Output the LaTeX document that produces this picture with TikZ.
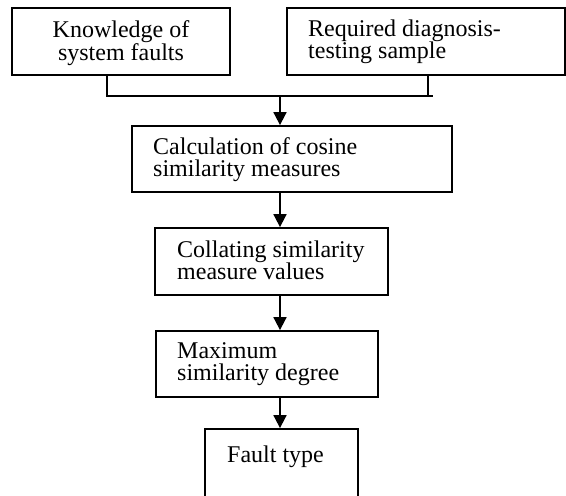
\documentclass[tikz,border=0pt]{standalone}
\usepackage{fontspec}
\setmainfont{Liberation Serif}
\usetikzlibrary{arrows.meta}
\tikzset{
  box/.style={draw, line width=1.8pt, rectangle, inner sep=0pt},
  lbl/.style={inner sep=0pt, anchor=base west, font=\fontsize{24}{21}\selectfont},
  clbl/.style={inner sep=0pt, anchor=base, font=\fontsize{24}{21}\selectfont},
  conn/.style={line width=1.8pt},
  arr/.style={line width=1.8pt, -{Triangle[length=13pt,width=13pt]}}
}
\begin{document}
\begin{tikzpicture}[x=1pt,y=-1pt]
\useasboundingbox (0,0) rectangle (566,496);
% boxes
\node[box, minimum width=218pt, minimum height=67pt] (b1) at (121,41.5) {};
\node[box, minimum width=278pt, minimum height=67pt] (b2) at (426,41.5) {};
\node[box, minimum width=320pt, minimum height=66pt] (b3) at (292,159) {};
\node[box, minimum width=233pt, minimum height=67pt] (b4) at (271.5,261.5) {};
\node[box, minimum width=222pt, minimum height=66pt] (b5) at (267,364) {};
\node[box, minimum width=153pt, minimum height=72pt] (b6) at (281.5,465) {};
% labels
\node[clbl] (t1) at (121,37) {\begin{tabular}[t]{@{}c@{}}Knowledge of\\system faults\end{tabular}};
\node[lbl] (t2) at (308,36) {\begin{tabular}[t]{@{}l@{}}Required diagnosis-\\testing sample\end{tabular}};
\node[lbl] (t3) at (153,154) {\begin{tabular}[t]{@{}l@{}}Calculation of cosine\\similarity measures\end{tabular}};
\node[lbl] (t4) at (177,257) {\begin{tabular}[t]{@{}l@{}}Collating similarity\\measure values\end{tabular}};
\node[lbl] (t5) at (177,358) {\begin{tabular}[t]{@{}l@{}}Maximum\\similarity degree\end{tabular}};
\node[lbl] (t6) at (227,462) {Fault type};
% connector coordinates
\coordinate (c1) at (107,96);
\coordinate (c2) at (428,96);
\coordinate (cend) at (433,96);
\coordinate (ax) at (280,96);
\draw[conn] (b1.south -| c1) -- (c1) -- (cend);
\draw[conn] (b2.south -| c2) -- (c2);
\draw[arr] (ax) -- (b3.north -| ax);
\draw[arr] (b3.south -| ax) -- (b4.north -| ax);
\draw[arr] (b4.south -| ax) -- (b5.north -| ax);
\draw[arr] (b5.south -| ax) -- (b6.north -| ax);
\end{tikzpicture}
\end{document}
